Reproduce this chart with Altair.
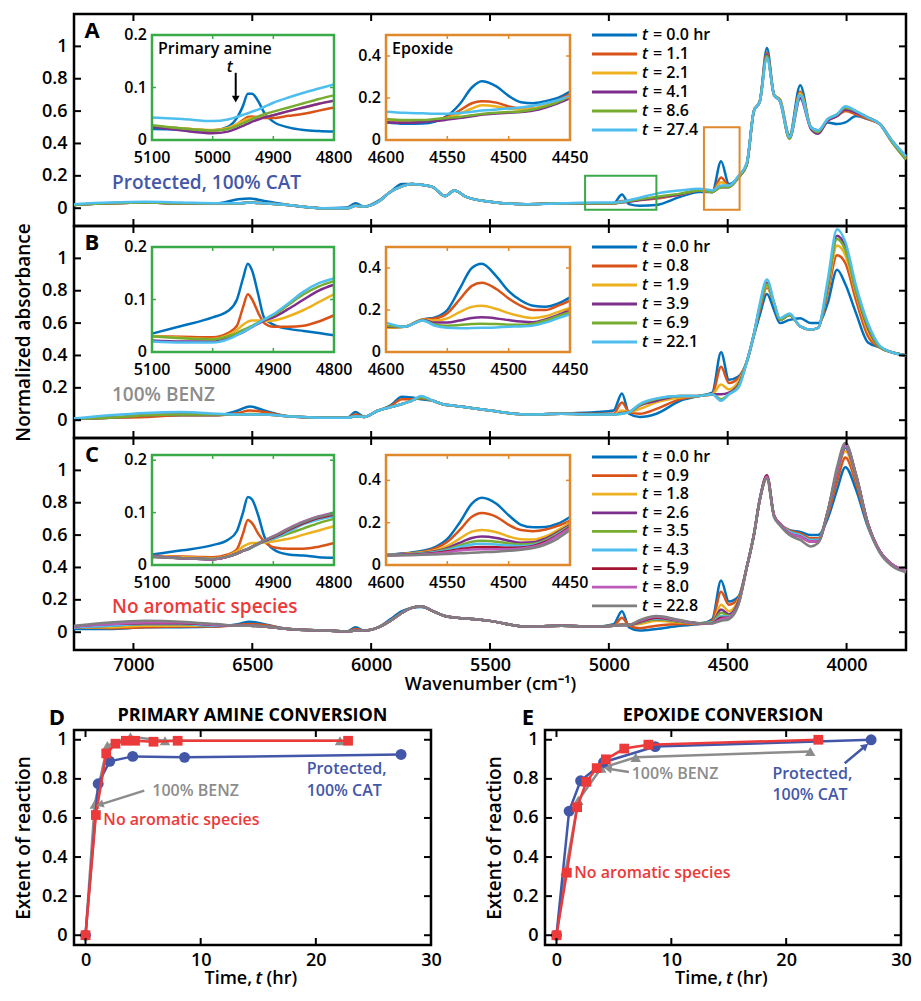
import math
import altair as alt
import pandas as pd

FONT = "Open Sans"

# ---------------- data ----------------
WN = [7250, 7100, 6950, 6800, 6650, 6560, 6510, 6450, 6350, 6200, 6100, 6065, 6030, 5970, 5920,
      5870, 5830, 5790, 5740, 5690, 5650, 5600, 5500, 5350, 5200, 5050, 4980, 4945, 4915, 4870,
      4800, 4700, 4620, 4565, 4528, 4495, 4455, 4420, 4390, 4365, 4335, 4305, 4280, 4240, 4195,
      4150, 4120, 4080, 4040, 4005, 3960, 3910, 3860, 3810, 3750]
AMINE_WN = [5100, 5050, 5000, 4975, 4960, 4950, 4942, 4935, 4925, 4915, 4900, 4875, 4850, 4825, 4800]
EPOX_WN = [4600, 4585, 4570, 4560, 4550, 4540, 4530, 4522, 4510, 4500, 4490, 4480, 4470, 4460, 4450]

# Panel A: Protected, 100% CAT
A_TIMES = ["0.0", "1.1", "2.1", "4.1", "8.6", "27.4"]
A_T0 = [0.02, 0.03, 0.035, 0.03, 0.03, 0.055, 0.06, 0.045, 0.02, 0.0, 0.005, 0.03, 0.01, 0.045, 0.1, 0.15, 0.15, 0.145, 0.13, 0.075, 0.11, 0.07, 0.04, 0.025, 0.03, 0.03, 0.03, 0.085, 0.025, 0.015, 0.02, 0.07, 0.1, 0.1, 0.29, 0.15, 0.19, 0.27, 0.6, 0.66, 0.99, 0.7, 0.67, 0.45, 0.76, 0.5, 0.48, 0.53, 0.52, 0.53, 0.57, 0.55, 0.52, 0.42, 0.32]
A_T1 = [0.02, 0.03, 0.035, 0.03, 0.03, 0.03, 0.035, 0.03, 0.02, 0.0, 0.0, 0.015, 0.01, 0.04, 0.1, 0.135, 0.15, 0.145, 0.13, 0.075, 0.11, 0.07, 0.04, 0.025, 0.03, 0.03, 0.03, 0.045, 0.045, 0.05, 0.06, 0.085, 0.11, 0.1, 0.19, 0.14, 0.19, 0.27, 0.6, 0.66, 0.96, 0.7, 0.67, 0.44, 0.72, 0.5, 0.47, 0.54, 0.57, 0.6, 0.58, 0.55, 0.52, 0.42, 0.31]
A_T2 = [0.02, 0.03, 0.035, 0.03, 0.03, 0.03, 0.035, 0.03, 0.02, 0.0, 0.0, 0.015, 0.01, 0.04, 0.1, 0.135, 0.15, 0.145, 0.13, 0.075, 0.11, 0.07, 0.04, 0.025, 0.03, 0.03, 0.03, 0.04, 0.045, 0.055, 0.065, 0.085, 0.11, 0.1, 0.16, 0.135, 0.19, 0.27, 0.6, 0.66, 0.95, 0.7, 0.67, 0.44, 0.71, 0.5, 0.47, 0.54, 0.57, 0.61, 0.59, 0.56, 0.52, 0.42, 0.31]
A_T3 = [0.02, 0.03, 0.035, 0.03, 0.03, 0.03, 0.035, 0.03, 0.02, 0.0, 0.0, 0.015, 0.01, 0.04, 0.1, 0.135, 0.15, 0.145, 0.13, 0.075, 0.11, 0.07, 0.04, 0.025, 0.03, 0.03, 0.03, 0.035, 0.04, 0.05, 0.065, 0.085, 0.11, 0.1, 0.13, 0.13, 0.19, 0.27, 0.6, 0.66, 0.95, 0.7, 0.66, 0.43, 0.68, 0.49, 0.46, 0.54, 0.57, 0.61, 0.59, 0.56, 0.52, 0.41, 0.3]
A_T4 = [0.02, 0.03, 0.035, 0.03, 0.03, 0.03, 0.035, 0.03, 0.02, 0.0, 0.0, 0.015, 0.01, 0.04, 0.1, 0.135, 0.15, 0.145, 0.13, 0.075, 0.11, 0.07, 0.04, 0.025, 0.03, 0.03, 0.03, 0.037, 0.045, 0.055, 0.07, 0.09, 0.11, 0.1, 0.13, 0.13, 0.19, 0.27, 0.6, 0.66, 0.94, 0.7, 0.66, 0.43, 0.7, 0.5, 0.47, 0.55, 0.58, 0.62, 0.6, 0.56, 0.52, 0.41, 0.3]
A_T5 = [0.025, 0.035, 0.04, 0.035, 0.03, 0.03, 0.035, 0.03, 0.02, 0.0, 0.0, 0.015, 0.01, 0.04, 0.1, 0.135, 0.15, 0.145, 0.13, 0.075, 0.11, 0.07, 0.04, 0.025, 0.03, 0.035, 0.035, 0.04, 0.05, 0.065, 0.09, 0.11, 0.12, 0.11, 0.14, 0.14, 0.2, 0.28, 0.6, 0.66, 0.93, 0.7, 0.66, 0.44, 0.7, 0.5, 0.48, 0.55, 0.58, 0.63, 0.6, 0.56, 0.52, 0.42, 0.32]
A_AMINE = [
    [0.021, 0.02, 0.018, 0.025, 0.042, 0.065, 0.088, 0.088, 0.074, 0.052, 0.035, 0.024, 0.019, 0.017, 0.016],
    [0.026, 0.022, 0.018, 0.022, 0.03, 0.038, 0.044, 0.045, 0.043, 0.042, 0.042, 0.046, 0.05, 0.056, 0.062],
    [0.026, 0.022, 0.019, 0.023, 0.03, 0.036, 0.04, 0.042, 0.043, 0.044, 0.047, 0.055, 0.062, 0.069, 0.075],
    [0.025, 0.018, 0.013, 0.016, 0.022, 0.027, 0.031, 0.035, 0.039, 0.043, 0.047, 0.055, 0.062, 0.069, 0.075],
    [0.028, 0.022, 0.018, 0.021, 0.027, 0.032, 0.036, 0.04, 0.045, 0.049, 0.054, 0.062, 0.07, 0.078, 0.085],
    [0.043, 0.04, 0.036, 0.039, 0.044, 0.048, 0.051, 0.054, 0.058, 0.063, 0.071, 0.081, 0.09, 0.098, 0.106],
]
A_EPOX = [
    [0.084, 0.077, 0.078, 0.088, 0.115, 0.17, 0.25, 0.28, 0.255, 0.21, 0.18, 0.175, 0.185, 0.2, 0.23],
    [0.09, 0.085, 0.088, 0.095, 0.11, 0.14, 0.175, 0.185, 0.178, 0.16, 0.15, 0.15, 0.165, 0.19, 0.22],
    [0.092, 0.088, 0.09, 0.095, 0.105, 0.125, 0.15, 0.165, 0.16, 0.15, 0.145, 0.15, 0.165, 0.185, 0.21],
    [0.085, 0.082, 0.086, 0.09, 0.097, 0.105, 0.113, 0.12, 0.126, 0.13, 0.133, 0.14, 0.155, 0.175, 0.2],
    [0.1, 0.095, 0.095, 0.1, 0.105, 0.11, 0.118, 0.124, 0.13, 0.133, 0.136, 0.145, 0.16, 0.18, 0.21],
    [0.135, 0.13, 0.127, 0.125, 0.125, 0.128, 0.134, 0.14, 0.145, 0.15, 0.155, 0.163, 0.175, 0.19, 0.21],
]

# Panel B: 100% BENZ
B_TIMES = ["0.0", "0.8", "1.9", "3.9", "6.9", "22.1"]
B_T0 = [0.01, 0.015, 0.025, 0.03, 0.03, 0.06, 0.085, 0.06, 0.025, 0.015, 0.015, 0.05, 0.02, 0.06, 0.09, 0.145, 0.14, 0.13, 0.12, 0.095, 0.09, 0.08, 0.06, 0.035, 0.04, 0.05, 0.06, 0.165, 0.04, 0.02, 0.04, 0.12, 0.15, 0.17, 0.42, 0.25, 0.27, 0.36, 0.52, 0.65, 0.78, 0.68, 0.6, 0.62, 0.63, 0.6, 0.6, 0.72, 0.93, 0.84, 0.66, 0.48, 0.45, 0.42, 0.4]
B_T1 = [0.01, 0.015, 0.02, 0.03, 0.03, 0.045, 0.06, 0.05, 0.025, 0.015, 0.015, 0.035, 0.02, 0.06, 0.085, 0.13, 0.13, 0.135, 0.12, 0.095, 0.09, 0.08, 0.06, 0.035, 0.04, 0.04, 0.04, 0.11, 0.05, 0.04, 0.07, 0.13, 0.15, 0.16, 0.33, 0.23, 0.26, 0.36, 0.53, 0.68, 0.82, 0.72, 0.62, 0.65, 0.58, 0.56, 0.57, 0.78, 1.02, 0.97, 0.74, 0.52, 0.45, 0.42, 0.4]
B_T2 = [0.01, 0.015, 0.03, 0.035, 0.035, 0.035, 0.04, 0.035, 0.025, 0.015, 0.015, 0.025, 0.02, 0.06, 0.08, 0.1, 0.12, 0.14, 0.12, 0.095, 0.09, 0.08, 0.06, 0.035, 0.04, 0.035, 0.035, 0.06, 0.05, 0.07, 0.11, 0.14, 0.15, 0.16, 0.22, 0.19, 0.24, 0.36, 0.53, 0.7, 0.83, 0.72, 0.62, 0.65, 0.58, 0.56, 0.57, 0.8, 1.08, 1.02, 0.78, 0.55, 0.45, 0.42, 0.4]
B_T3 = [0.01, 0.015, 0.03, 0.035, 0.035, 0.035, 0.035, 0.035, 0.025, 0.015, 0.015, 0.025, 0.02, 0.06, 0.08, 0.1, 0.12, 0.14, 0.12, 0.095, 0.09, 0.08, 0.06, 0.035, 0.04, 0.035, 0.035, 0.045, 0.05, 0.09, 0.12, 0.15, 0.15, 0.16, 0.16, 0.17, 0.22, 0.36, 0.53, 0.7, 0.85, 0.72, 0.62, 0.65, 0.58, 0.56, 0.57, 0.82, 1.14, 1.07, 0.8, 0.57, 0.45, 0.42, 0.4]
B_T4 = [0.01, 0.015, 0.03, 0.035, 0.035, 0.035, 0.035, 0.035, 0.025, 0.015, 0.015, 0.025, 0.02, 0.06, 0.08, 0.1, 0.12, 0.14, 0.12, 0.095, 0.09, 0.08, 0.06, 0.035, 0.04, 0.035, 0.035, 0.04, 0.05, 0.095, 0.13, 0.15, 0.15, 0.16, 0.13, 0.16, 0.21, 0.36, 0.53, 0.7, 0.84, 0.72, 0.62, 0.65, 0.58, 0.56, 0.57, 0.83, 1.12, 1.05, 0.8, 0.58, 0.45, 0.42, 0.4]
B_T5 = [0.01, 0.03, 0.045, 0.05, 0.04, 0.035, 0.035, 0.035, 0.025, 0.015, 0.015, 0.025, 0.02, 0.06, 0.08, 0.1, 0.12, 0.15, 0.12, 0.095, 0.09, 0.08, 0.06, 0.035, 0.04, 0.035, 0.035, 0.04, 0.05, 0.1, 0.135, 0.15, 0.15, 0.16, 0.12, 0.16, 0.2, 0.36, 0.53, 0.72, 0.87, 0.73, 0.63, 0.66, 0.58, 0.56, 0.57, 0.86, 1.18, 1.1, 0.83, 0.6, 0.46, 0.42, 0.4]
B_AMINE = [
    [0.035, 0.05, 0.066, 0.078, 0.1, 0.14, 0.168, 0.155, 0.11, 0.065, 0.052, 0.044, 0.04, 0.036, 0.032],
    [0.03, 0.029, 0.028, 0.036, 0.05, 0.085, 0.11, 0.1, 0.075, 0.055, 0.048, 0.048, 0.05, 0.058, 0.07],
    [0.03, 0.027, 0.025, 0.032, 0.042, 0.052, 0.058, 0.06, 0.06, 0.059, 0.06, 0.068, 0.08, 0.095, 0.11],
    [0.022, 0.02, 0.02, 0.026, 0.033, 0.038, 0.043, 0.048, 0.054, 0.06, 0.066, 0.082, 0.1, 0.117, 0.128],
    [0.03, 0.026, 0.024, 0.03, 0.036, 0.042, 0.046, 0.05, 0.056, 0.062, 0.07, 0.09, 0.11, 0.125, 0.135],
    [0.02, 0.018, 0.018, 0.024, 0.032, 0.038, 0.043, 0.048, 0.055, 0.062, 0.072, 0.093, 0.115, 0.131, 0.14],
]
B_EPOX = [
    [0.115, 0.12, 0.155, 0.165, 0.2, 0.3, 0.4, 0.42, 0.36, 0.29, 0.245, 0.22, 0.215, 0.23, 0.26],
    [0.115, 0.12, 0.155, 0.16, 0.185, 0.25, 0.315, 0.33, 0.3, 0.255, 0.22, 0.2, 0.2, 0.22, 0.245],
    [0.115, 0.12, 0.155, 0.15, 0.16, 0.19, 0.215, 0.22, 0.205, 0.185, 0.17, 0.162, 0.17, 0.19, 0.21],
    [0.12, 0.12, 0.152, 0.14, 0.14, 0.15, 0.162, 0.165, 0.16, 0.152, 0.145, 0.142, 0.155, 0.175, 0.2],
    [0.125, 0.12, 0.15, 0.13, 0.125, 0.128, 0.133, 0.135, 0.133, 0.13, 0.13, 0.135, 0.15, 0.17, 0.19],
    [0.14, 0.12, 0.15, 0.125, 0.115, 0.113, 0.114, 0.115, 0.117, 0.12, 0.122, 0.126, 0.14, 0.16, 0.18],
]

# Panel C: No aromatic species
C_TIMES = ["0.0", "0.9", "1.8", "2.6", "3.5", "4.3", "5.9", "8.0", "22.8"]
C_T0 = [0.02, 0.02, 0.03, 0.03, 0.035, 0.05, 0.065, 0.05, 0.02, 0.01, 0.005, 0.03, 0.01, 0.03, 0.08, 0.13, 0.15, 0.155, 0.13, 0.1, 0.09, 0.085, 0.07, 0.035, 0.04, 0.035, 0.05, 0.13, 0.03, 0.01, 0.02, 0.04, 0.05, 0.08, 0.32, 0.19, 0.22, 0.4, 0.6, 0.82, 0.96, 0.72, 0.67, 0.63, 0.62, 0.6, 0.6, 0.7, 0.88, 1.02, 0.88, 0.65, 0.5, 0.42, 0.38]
C_T1 = [0.03, 0.025, 0.03, 0.035, 0.035, 0.045, 0.05, 0.045, 0.02, 0.01, 0.005, 0.02, 0.01, 0.03, 0.07, 0.12, 0.15, 0.16, 0.13, 0.1, 0.09, 0.085, 0.07, 0.035, 0.04, 0.035, 0.04, 0.09, 0.04, 0.025, 0.04, 0.05, 0.05, 0.07, 0.25, 0.17, 0.21, 0.4, 0.6, 0.82, 0.95, 0.72, 0.67, 0.63, 0.61, 0.58, 0.58, 0.72, 0.93, 1.08, 0.92, 0.66, 0.5, 0.42, 0.38]
C_T2 = [0.03, 0.03, 0.04, 0.04, 0.04, 0.04, 0.04, 0.035, 0.02, 0.01, 0.005, 0.01, 0.01, 0.03, 0.07, 0.12, 0.15, 0.16, 0.13, 0.1, 0.09, 0.085, 0.07, 0.035, 0.04, 0.035, 0.04, 0.05, 0.045, 0.05, 0.07, 0.06, 0.055, 0.06, 0.17, 0.13, 0.2, 0.4, 0.6, 0.82, 0.96, 0.72, 0.67, 0.62, 0.6, 0.57, 0.57, 0.74, 0.98, 1.12, 0.95, 0.67, 0.5, 0.42, 0.38]
C_T3 = [0.03, 0.04, 0.05, 0.05, 0.04, 0.04, 0.04, 0.035, 0.02, 0.01, 0.005, 0.01, 0.01, 0.03, 0.07, 0.12, 0.15, 0.16, 0.13, 0.1, 0.09, 0.085, 0.07, 0.035, 0.04, 0.035, 0.04, 0.045, 0.045, 0.06, 0.08, 0.065, 0.055, 0.06, 0.14, 0.11, 0.19, 0.4, 0.6, 0.82, 0.96, 0.72, 0.67, 0.62, 0.6, 0.57, 0.57, 0.74, 0.98, 1.14, 0.96, 0.67, 0.5, 0.42, 0.38]
C_T4 = [0.03, 0.04, 0.05, 0.05, 0.04, 0.04, 0.04, 0.035, 0.02, 0.01, 0.005, 0.01, 0.01, 0.03, 0.07, 0.12, 0.15, 0.16, 0.13, 0.1, 0.09, 0.085, 0.07, 0.035, 0.04, 0.035, 0.04, 0.045, 0.045, 0.06, 0.08, 0.065, 0.055, 0.06, 0.12, 0.1, 0.18, 0.4, 0.6, 0.82, 0.96, 0.72, 0.67, 0.62, 0.6, 0.57, 0.57, 0.74, 0.99, 1.15, 0.97, 0.67, 0.5, 0.42, 0.38]
C_T5 = [0.03, 0.04, 0.05, 0.05, 0.04, 0.04, 0.04, 0.035, 0.02, 0.01, 0.005, 0.01, 0.01, 0.03, 0.07, 0.12, 0.15, 0.16, 0.13, 0.1, 0.09, 0.085, 0.07, 0.035, 0.04, 0.035, 0.04, 0.045, 0.045, 0.065, 0.085, 0.07, 0.055, 0.06, 0.1, 0.095, 0.18, 0.4, 0.6, 0.82, 0.97, 0.72, 0.67, 0.62, 0.6, 0.57, 0.57, 0.74, 0.99, 1.15, 0.97, 0.67, 0.5, 0.42, 0.38]
C_T6 = [0.035, 0.05, 0.055, 0.055, 0.045, 0.04, 0.04, 0.035, 0.02, 0.01, 0.005, 0.01, 0.01, 0.03, 0.07, 0.12, 0.15, 0.16, 0.13, 0.1, 0.09, 0.085, 0.07, 0.035, 0.04, 0.035, 0.04, 0.045, 0.045, 0.065, 0.09, 0.07, 0.055, 0.055, 0.09, 0.09, 0.18, 0.4, 0.6, 0.82, 0.97, 0.72, 0.67, 0.61, 0.59, 0.56, 0.56, 0.74, 1.0, 1.16, 0.97, 0.67, 0.5, 0.42, 0.38]
C_T7 = [0.035, 0.05, 0.06, 0.06, 0.045, 0.04, 0.04, 0.035, 0.02, 0.01, 0.005, 0.01, 0.01, 0.03, 0.07, 0.12, 0.15, 0.16, 0.13, 0.1, 0.09, 0.085, 0.07, 0.035, 0.04, 0.035, 0.04, 0.045, 0.045, 0.07, 0.095, 0.07, 0.055, 0.055, 0.08, 0.09, 0.17, 0.4, 0.6, 0.82, 0.96, 0.72, 0.67, 0.61, 0.59, 0.56, 0.56, 0.74, 1.0, 1.16, 0.97, 0.67, 0.5, 0.42, 0.38]
C_T8 = [0.04, 0.06, 0.07, 0.065, 0.05, 0.04, 0.04, 0.035, 0.02, 0.01, 0.005, 0.01, 0.01, 0.03, 0.07, 0.12, 0.15, 0.16, 0.13, 0.1, 0.09, 0.085, 0.07, 0.035, 0.04, 0.035, 0.04, 0.045, 0.045, 0.075, 0.1, 0.075, 0.055, 0.055, 0.07, 0.08, 0.17, 0.4, 0.6, 0.82, 0.95, 0.71, 0.66, 0.6, 0.57, 0.53, 0.55, 0.74, 1.02, 1.17, 0.97, 0.66, 0.49, 0.41, 0.37]
C_AMINE = [
    [0.02, 0.028, 0.038, 0.048, 0.065, 0.1, 0.13, 0.125, 0.095, 0.055, 0.03, 0.02, 0.018, 0.015, 0.014],
    [0.017, 0.016, 0.015, 0.02, 0.03, 0.06, 0.086, 0.08, 0.06, 0.045, 0.034, 0.031, 0.031, 0.035, 0.042],
    [0.017, 0.015, 0.013, 0.018, 0.026, 0.035, 0.04, 0.042, 0.042, 0.043, 0.045, 0.05, 0.058, 0.066, 0.074],
    [0.016, 0.013, 0.011, 0.016, 0.022, 0.027, 0.03, 0.034, 0.04, 0.045, 0.052, 0.065, 0.08, 0.089, 0.095],
    [0.016, 0.013, 0.011, 0.016, 0.022, 0.027, 0.03, 0.034, 0.04, 0.045, 0.05, 0.06, 0.07, 0.08, 0.088],
    [0.016, 0.013, 0.011, 0.016, 0.022, 0.027, 0.03, 0.034, 0.04, 0.045, 0.051, 0.064, 0.078, 0.087, 0.093],
    [0.016, 0.013, 0.011, 0.016, 0.022, 0.027, 0.031, 0.035, 0.041, 0.046, 0.053, 0.067, 0.08, 0.09, 0.096],
    [0.016, 0.013, 0.011, 0.016, 0.022, 0.027, 0.031, 0.035, 0.041, 0.047, 0.055, 0.07, 0.083, 0.093, 0.1],
    [0.015, 0.013, 0.012, 0.016, 0.022, 0.027, 0.031, 0.035, 0.041, 0.047, 0.054, 0.069, 0.082, 0.092, 0.098],
]
C_EPOX = [
    [0.047, 0.055, 0.067, 0.085, 0.123, 0.2, 0.29, 0.318, 0.29, 0.235, 0.19, 0.178, 0.18, 0.195, 0.227],
    [0.047, 0.053, 0.063, 0.078, 0.11, 0.165, 0.228, 0.246, 0.228, 0.19, 0.165, 0.16, 0.168, 0.185, 0.21],
    [0.047, 0.052, 0.06, 0.07, 0.09, 0.125, 0.158, 0.166, 0.155, 0.135, 0.122, 0.12, 0.135, 0.165, 0.2],
    [0.047, 0.05, 0.057, 0.065, 0.08, 0.105, 0.128, 0.135, 0.128, 0.115, 0.105, 0.107, 0.125, 0.155, 0.19],
    [0.047, 0.05, 0.055, 0.062, 0.075, 0.093, 0.11, 0.115, 0.11, 0.102, 0.097, 0.1, 0.118, 0.15, 0.185],
    [0.047, 0.05, 0.054, 0.06, 0.07, 0.085, 0.097, 0.1, 0.097, 0.092, 0.09, 0.095, 0.113, 0.145, 0.18],
    [0.046, 0.048, 0.052, 0.057, 0.065, 0.075, 0.083, 0.085, 0.084, 0.082, 0.083, 0.09, 0.11, 0.142, 0.18],
    [0.045, 0.047, 0.05, 0.054, 0.06, 0.068, 0.073, 0.075, 0.075, 0.075, 0.078, 0.086, 0.105, 0.138, 0.175],
    [0.045, 0.046, 0.048, 0.05, 0.052, 0.055, 0.058, 0.06, 0.063, 0.067, 0.072, 0.08, 0.097, 0.125, 0.165],
]

# Panels D/E: conversion kinetics
CAT_T = [0, 1.1, 2.1, 4.1, 8.6, 27.4]
BENZ_T = [0, 0.8, 1.9, 3.9, 6.9, 22.1]
NOAR_T = [0, 0.9, 1.8, 2.6, 3.5, 4.3, 5.9, 8.0, 22.8]
D_CAT = [0, 0.775, 0.89, 0.915, 0.91, 0.925]
D_BENZ = [0, 0.67, 0.97, 1.015, 0.995, 0.995]
D_NOAR = [0, 0.615, 0.93, 0.98, 0.995, 0.995, 0.99, 0.995, 0.995]
E_CAT = [0, 0.635, 0.79, 0.885, 0.965, 1.0]
E_BENZ = [0, 0.33, 0.69, 0.855, 0.91, 0.94]
E_NOAR = [0, 0.32, 0.655, 0.785, 0.855, 0.9, 0.955, 0.975, 1.0]

ANN_TEXT = ["100% BENZ", "No aromatic species", "Protected,", "100% CAT"]
D_ANN_T = [5.8, 1.55, 19.2, 19.2]
D_ANN_V = [0.738, 0.59, 0.85, 0.74]
E_ANN_T = [6.55, 1.55, 18.8, 18.8]
E_ANN_V = [0.826, 0.318, 0.826, 0.718]
D_ARROW_FROM = [(5.1, 0.74)]
D_ARROW_TO = [(1.25, 0.668)]
E_ARROW_FROM = [(6.3, 0.835), (25.1, 0.88)]
E_ARROW_TO = [(4.5, 0.852), (26.9, 0.968)]

# ---------------- styles ----------------
PAL = ["#0072BD", "#D95319", "#EDB120", "#7E2F8E", "#77AC30", "#4DBEEE", "#A2142F", "#BD5BBB", "#7F7F7F"]
CSCALE = alt.Scale(domain=[str(i) for i in range(9)], range=PAL)
BLUE = "#4357a8"
GRAY = "#8c8c8c"
RED = "#ec3a3a"
GREEN_BOX = "#3aaa48"
ORANGE_BOX = "#e0892c"
ANN_COLOR = [GRAY, RED, BLUE, BLUE]
D_ARROW_COLOR = [GRAY]
E_ARROW_COLOR = [GRAY, BLUE]

W_MAIN = 832
H_MAIN = 212
H_KIN = 215
LW = 2.5
ONE = pd.DataFrame({"k": [0]})


def long_df(wn, series):
    rows = []
    for i, vals in enumerate(series):
        for w, v in zip(wn, vals):
            rows.append({"wn": w, "val": v, "s": str(i)})
    return pd.DataFrame(rows)


def pix_text(txt, x, y, size, color="black", weight=600, style="normal", align="left"):
    return alt.Chart(ONE).mark_text(
        text=txt, font=FONT, fontSize=size, fontWeight=weight, fontStyle=style,
        align=align, baseline="middle", color=color,
    ).encode(x=alt.value(x), y=alt.value(y))


def xticks(vals, xs, pairs, color="black", sw=2):
    d = pd.DataFrame({"v": vals})
    return [alt.Chart(d).mark_rule(color=color, strokeWidth=sw).encode(
        x=alt.X("v:Q", scale=xs, axis=None), y=alt.value(a), y2=alt.value(b)) for a, b in pairs]


def yticks(vals, ys, pairs, color="black", sw=2):
    d = pd.DataFrame({"v": vals})
    return [alt.Chart(d).mark_rule(color=color, strokeWidth=sw).encode(
        y=alt.Y("v:Q", scale=ys, axis=None), x=alt.value(a), x2=alt.value(b)) for a, b in pairs]


def inset(wn, series, xdom, ytop, xr, yr, color, xvals, yvals, title=None):
    xs = alt.Scale(domain=xdom, range=[xr[1], xr[0]], nice=False, zero=False)
    ys = alt.Scale(domain=[0, ytop], range=[yr[1], yr[0]], nice=False, zero=False)
    df = long_df(wn, series)
    lay = [alt.Chart(df).mark_line(strokeWidth=LW, interpolate="monotone").encode(
        x=alt.X("wn:Q", scale=xs, axis=None),
        y=alt.Y("val:Q", scale=ys, axis=None),
        color=alt.Color("s:N", scale=CSCALE, legend=None),
        order=alt.Order("wn:Q", sort="descending"),
    )]
    box = pd.DataFrame({"x1": [xdom[0]], "x2": [xdom[1]], "y1": [0], "y2": [ytop]})
    lay.append(alt.Chart(box).mark_rect(fillOpacity=0, stroke=color, strokeWidth=2.5).encode(
        x=alt.X("x1:Q", scale=xs, axis=None), x2="x2:Q",
        y=alt.Y("y1:Q", scale=ys, axis=None), y2="y2:Q"))
    lay += xticks(xvals, xs, [(yr[1], yr[1] - 4), (yr[0], yr[0] + 4)], color=color, sw=1.5)
    lay += yticks(yvals, ys, [(xr[0], xr[0] + 4), (xr[1], xr[1] - 4)], color=color, sw=1.5)
    lay.append(alt.Chart(pd.DataFrame({"v": xvals})).mark_text(
        font=FONT, fontSize=16, fontWeight=600, baseline="middle", color="black").encode(
        x=alt.X("v:Q", scale=xs, axis=None), y=alt.value(yr[1] + 18),
        text=alt.Text("v:Q", format="d")))
    lay.append(alt.Chart(pd.DataFrame({"v": yvals})).mark_text(
        font=FONT, fontSize=16, fontWeight=600, baseline="middle", align="right", color="black").encode(
        y=alt.Y("v:Q", scale=ys, axis=None), x=alt.value(xr[0] - 5),
        text=alt.Text("v:Q", format="~g")))
    if title:
        lay.append(pix_text(title, xr[0] + 6, yr[0] + 14, 16))
    return lay, xs, ys


def legend(times, y0, dy):
    n = len(times)
    labs = ["= " + times[0] + " hr"] + ["= " + t for t in times[1:]]
    d = pd.DataFrame({"row": list(range(n)), "s": [str(i) for i in range(n)], "lab": labs})
    ysc = alt.Scale(domain=[0, 1], range=[y0, y0 + dy], nice=False, zero=False)
    yenc = alt.Y("row:Q", scale=ysc, axis=None)
    sw = alt.Chart(d).mark_rule(strokeWidth=2.8).encode(
        x=alt.value(518), x2=alt.value(563), y=yenc,
        color=alt.Color("s:N", scale=CSCALE, legend=None))
    tt = alt.Chart(d).mark_text(font=FONT, fontSize=16, fontWeight=600, fontStyle="italic",
                                align="left", baseline="middle", color="black").encode(
        x=alt.value(568), y=yenc, text=alt.value("t"))
    tl = alt.Chart(d).mark_text(font=FONT, fontSize=16, fontWeight=600, align="left",
                                baseline="middle", color="black").encode(
        x=alt.value(579), y=yenc, text="lab:N")
    return [sw, tt, tl]


def spectrum_panel(letter, name, name_color, times, spec, amine, epox, am_top, ep_top,
                   iy, leg_y0, leg_dy, show_x, ytitle, boxes, titles):
    xs = alt.Scale(domain=[3750, 7250], reverse=True, nice=False, zero=False)
    ys = alt.Scale(domain=[-0.11, 1.2], nice=False, zero=False)
    xaxis = None
    if show_x:
        xaxis = alt.Axis(values=[7000, 6500, 6000, 5500, 5000, 4500, 4000], format="d", ticks=False,
                         domain=False, grid=False, labelFontSize=18, labelFontWeight=600,
                         labelPadding=6, labelFlush=False, title="Wavenumber (cm⁻¹)",
                         titleFontSize=18, titleFontWeight=600, titlePadding=1)
    yaxis = alt.Axis(values=[0, 0.2, 0.4, 0.6, 0.8, 1], format="~g", ticks=False, domain=False,
                     grid=False, labelFontSize=18, labelFontWeight=600, labelPadding=7,
                     title=ytitle, titleFontSize=19, titleFontWeight=600, titlePadding=8)
    df = long_df(WN, spec)
    layers = [alt.Chart(df).mark_line(strokeWidth=LW, interpolate="monotone").encode(
        x=alt.X("wn:Q", scale=xs, axis=xaxis),
        y=alt.Y("val:Q", scale=ys, axis=yaxis),
        color=alt.Color("s:N", scale=CSCALE, legend=None),
        order=alt.Order("wn:Q", sort="descending"),
    )]
    if boxes:
        bx = pd.DataFrame({"x1": [5100, 4600], "x2": [4800, 4450], "y1": [-0.01, -0.01],
                           "y2": [0.2, 0.5]})
        for i, col in enumerate([GREEN_BOX, ORANGE_BOX]):
            layers.append(alt.Chart(bx.iloc[[i]]).mark_rect(fillOpacity=0, stroke=col, strokeWidth=2).encode(
                x=alt.X("x1:Q", scale=xs, axis=None), x2="x2:Q",
                y=alt.Y("y1:Q", scale=ys, axis=None), y2="y2:Q"))
    layers += xticks([7000, 6500, 6000, 5500, 5000, 4500, 4000], xs,
                     [(H_MAIN, H_MAIN - 7), (0, 7)])
    layers += yticks([0, 0.2, 0.4, 0.6, 0.8, 1], ys, [(0, 7), (W_MAIN, W_MAIN - 7)])
    g_lay, gxs, gys = inset(AMINE_WN, amine, [4800, 5100], am_top, (78, 260), iy, GREEN_BOX,
                            [5100, 5000, 4900, 4800], [0, 0.1, 0.2],
                            "Primary amine" if titles else None)
    o_lay, _, _ = inset(EPOX_WN, epox, [4450, 4600], ep_top, (312, 496), iy, ORANGE_BOX,
                        [4600, 4550, 4500, 4450], [0, 0.2, 0.4],
                        "Epoxide" if titles else None)
    layers += g_lay + o_lay
    if titles:
        ar = pd.DataFrame({"x": [4962], "y1": [0.128], "y2": [0.084], "yt": [0.078]})
        layers.append(alt.Chart(ar).mark_rule(color="black", strokeWidth=2).encode(
            x=alt.X("x:Q", scale=gxs, axis=None), y=alt.Y("y1:Q", scale=gys, axis=None), y2="y2:Q"))
        layers.append(alt.Chart(ar).mark_point(shape="triangle-down", filled=True, size=60,
                                               color="black", opacity=1).encode(
            x=alt.X("x:Q", scale=gxs, axis=None), y=alt.Y("yt:Q", scale=gys, axis=None)))
        tl = pd.DataFrame({"x": [4972], "y": [0.14]})
        layers.append(alt.Chart(tl).mark_text(text="t", font=FONT, fontSize=16, fontWeight=600,
                                              fontStyle="italic", baseline="middle", color="black").encode(
            x=alt.X("x:Q", scale=gxs, axis=None), y=alt.Y("y:Q", scale=gys, axis=None)))
    layers += legend(times, leg_y0, leg_dy)
    layers.append(pix_text(letter, 18, 17, 22, weight="bold", align="center"))
    layers.append(pix_text(name, 38, 169, 19, color=name_color))
    return alt.layer(*layers).resolve_scale(x="independent", y="independent").properties(
        width=W_MAIN, height=H_MAIN)


def kin_panel(title, letter, width, cat_v, benz_v, noar_v, ann_t, ann_v, arr_from, arr_to, arr_col):
    xs = alt.Scale(domain=[-1, 30], nice=False, zero=False)
    ys = alt.Scale(domain=[-0.05, 1.05], nice=False, zero=False)
    xaxis = alt.Axis(values=[0, 10, 20, 30], format="d", ticks=False, domain=False, grid=False,
                     labelFontSize=18, labelFontWeight=600, labelPadding=6, labelFlush=False, title=None)
    yaxis = alt.Axis(values=[0, 0.2, 0.4, 0.6, 0.8, 1], format="~g", ticks=False, domain=False,
                     grid=False, labelFontSize=18, labelFontWeight=600, labelPadding=7,
                     title="Extent of reaction", titleFontSize=19, titleFontWeight=600, titlePadding=8)
    gdf = pd.DataFrame({"t": BENZ_T, "v": benz_v})
    bdf = pd.DataFrame({"t": CAT_T, "v": cat_v})
    rdf = pd.DataFrame({"t": NOAR_T, "v": noar_v})

    def X(ax=None):
        return alt.X("t:Q", scale=xs, axis=ax)

    def Y(ax=None):
        return alt.Y("v:Q", scale=ys, axis=ax)

    layers = [
        alt.Chart(gdf).mark_line(color=GRAY, strokeWidth=2.5).encode(x=X(xaxis), y=Y(yaxis)),
        alt.Chart(gdf).mark_point(shape="triangle-up", filled=True, size=110, color=GRAY, opacity=1).encode(x=X(), y=Y()),
        alt.Chart(bdf).mark_line(color=BLUE, strokeWidth=2.5).encode(x=X(), y=Y()),
        alt.Chart(bdf).mark_circle(size=120, color=BLUE, opacity=1).encode(x=X(), y=Y()),
        alt.Chart(rdf).mark_line(color=RED, strokeWidth=2.5).encode(x=X(), y=Y()),
        alt.Chart(rdf).mark_square(size=95, color=RED, opacity=1).encode(x=X(), y=Y()),
    ]
    layers += xticks([0, 10, 20, 30], xs, [(H_KIN, H_KIN - 7), (0, 7)])
    layers += yticks([0, 0.2, 0.4, 0.6, 0.8, 1], ys, [(0, 7), (width, width - 7)])
    for txt, t, v, c in zip(ANN_TEXT, ann_t, ann_v, ANN_COLOR):
        d = pd.DataFrame({"t": [t], "v": [v]})
        layers.append(alt.Chart(d).mark_text(text=txt, font=FONT, fontSize=16, fontWeight=600,
                                             align="left", baseline="middle", color=c).encode(
            x=alt.X("t:Q", scale=xs, axis=None), y=alt.Y("v:Q", scale=ys, axis=None)))
    px_t = width / 31.0
    px_v = H_KIN / 1.1
    for (t1, v1), (t2, v2), c in zip(arr_from, arr_to, arr_col):
        d = pd.DataFrame({"t1": [t1], "v1": [v1], "t2": [t2], "v2": [v2]})
        ang = math.degrees(math.atan2((t2 - t1) * px_t, (v2 - v1) * px_v)) % 360
        layers.append(alt.Chart(d).mark_rule(color=c, strokeWidth=2.5).encode(
            x=alt.X("t1:Q", scale=xs, axis=None), y=alt.Y("v1:Q", scale=ys, axis=None),
            x2="t2:Q", y2="v2:Q"))
        layers.append(alt.Chart(d).mark_point(shape="triangle-up", filled=True, size=70, color=c,
                                              opacity=1, angle=ang).encode(
            x=alt.X("t2:Q", scale=xs, axis=None), y=alt.Y("v2:Q", scale=ys, axis=None)))
    cx = width / 2.0
    layers.append(pix_text("Time,", cx - 48, H_KIN + 34, 18))
    layers.append(pix_text("t", cx + 3, H_KIN + 34, 18, style="italic"))
    layers.append(pix_text("(hr)", cx + 14, H_KIN + 34, 18))
    layers.append(pix_text(title, cx, -14, 18, weight="bold", align="center"))
    layers.append(pix_text(letter, -17, -12, 22, weight="bold", align="center"))
    return alt.layer(*layers).resolve_scale(x="independent", y="independent").properties(
        width=width, height=H_KIN)


pA = spectrum_panel("A", "Protected, 100% CAT", BLUE, A_TIMES,
                    [A_T0, A_T1, A_T2, A_T3, A_T4, A_T5], A_AMINE, A_EPOX, 0.2, 0.5,
                    (21, 126), 21, 19, False, None, True, True)
pB = spectrum_panel("B", "100% BENZ", GRAY, B_TIMES,
                    [B_T0, B_T1, B_T2, B_T3, B_T4, B_T5], B_AMINE, B_EPOX, 0.2, 0.5,
                    (21, 126), 21, 19, False, "Normalized absorbance", False, False)
pC = spectrum_panel("C", "No aromatic species", RED, C_TIMES,
                    [C_T0, C_T1, C_T2, C_T3, C_T4, C_T5, C_T6, C_T7, C_T8], C_AMINE, C_EPOX,
                    0.21, 0.52, (17, 127), 19, 18.6, True, None, False, False)
pD = kin_panel("PRIMARY AMINE CONVERSION", "D", 357, D_CAT, D_BENZ, D_NOAR, D_ANN_T, D_ANN_V,
               D_ARROW_FROM, D_ARROW_TO, D_ARROW_COLOR)
pE = kin_panel("EPOXIDE CONVERSION", "E", 356, E_CAT, E_BENZ, E_NOAR, E_ANN_T, E_ANN_V,
               E_ARROW_FROM, E_ARROW_TO, E_ARROW_COLOR)

top = alt.vconcat(pA, pB, pC, spacing=0, bounds="flush")
bottom = alt.hconcat(pD, pE, spacing=41)
chart = alt.vconcat(top, bottom, spacing=10,
                    padding={"left": 5, "top": 3, "right": 0, "bottom": 0}).configure_view(
    stroke="black", strokeWidth=2.5).configure_axis(
    labelFont=FONT, titleFont=FONT, labelColor="black", titleColor="black")

chart.save("out.html", embed_options={"renderer": "svg", "actions": False})
